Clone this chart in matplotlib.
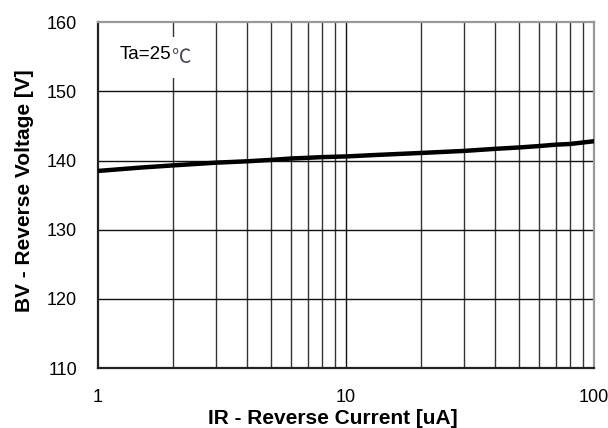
import matplotlib.pyplot as plt
import numpy as np
from matplotlib.patches import Rectangle

# Reverse current [uA] vs breakdown voltage [V]
current = [1, 1.5, 2, 3, 4, 5, 6, 7, 8, 10, 13, 15, 20, 30, 40, 50, 60, 70, 80, 100]
voltage = [138.5, 139.0, 139.3, 139.7, 139.9, 140.1, 140.3, 140.4, 140.5, 140.6,
           140.8, 140.9, 141.1, 141.4, 141.7, 141.9, 142.1, 142.3, 142.4, 142.8]

yticks = [110, 120, 130, 140, 150, 160]
xticks = [1, 10, 100]

fig = plt.figure(figsize=(6.08, 4.28), dpi=100)
ax = fig.add_axes([0.161, 0.140, 0.816, 0.808])

ax.set_xscale('log')
ax.set_xlim(1, 100)
ax.set_ylim(110, 160)

# grid at every minor decade step
for d in [1, 10]:
    for m in range(2, 10):
        ax.axvline(d * m, color='#333333', lw=1.0, zorder=1)
ax.axvline(10, color='#111111', lw=1.0, zorder=1)
for y in yticks[1:-1]:
    ax.axhline(y, color='#111111', lw=1.0, zorder=1)

ax.plot(current, voltage, color='black', lw=3.2, zorder=3)

ax.set_xticks(xticks)
ax.set_xticklabels(['1', '10', '100'])
ax.set_yticks(yticks)
ax.minorticks_off()
ax.tick_params(axis='x', length=0, labelsize=13, pad=15)
ax.tick_params(axis='y', length=0, labelsize=13, pad=15)
for lab in ax.get_xticklabels() + ax.get_yticklabels():
    lab.set_family('Liberation Sans')

ax.spines['left'].set_color('#222222')
ax.spines['bottom'].set_color('#222222')
ax.spines['top'].set_color('#999999')
ax.spines['right'].set_color('#999999')
for s in ax.spines.values():
    s.set_linewidth(1.6)

ax.set_xlabel('IR - Reverse Current [uA]', fontsize=15, fontweight='bold',
              family='Liberation Sans')
ax.set_ylabel('BV - Reverse Voltage [V]', fontsize=15, fontweight='bold',
              family='Liberation Sans', labelpad=9)
ax.xaxis.set_label_coords(0.474, -0.117, transform=ax.transAxes)
ax.xaxis.label.set_va('top')
ax.yaxis.label.set_y(0.514)

# white patch where the annotation breaks the x=2 grid line
ax.add_patch(Rectangle((0.13, 0.838), 0.04, 0.119, transform=ax.transAxes,
                       facecolor='white', edgecolor='none', zorder=2))
ax.text(0.043, 0.906, 'Ta=25', transform=ax.transAxes, fontsize=13.5,
        family='Liberation Sans', va='center', ha='left', zorder=4)
ax.text(0.147, 0.897, '℃', transform=ax.transAxes, fontsize=14,
        family=['Noto Sans CJK SC', 'DejaVu Sans'], color='#454a55',
        va='center', ha='left', zorder=4)

fig.savefig('out.png', dpi=100)
